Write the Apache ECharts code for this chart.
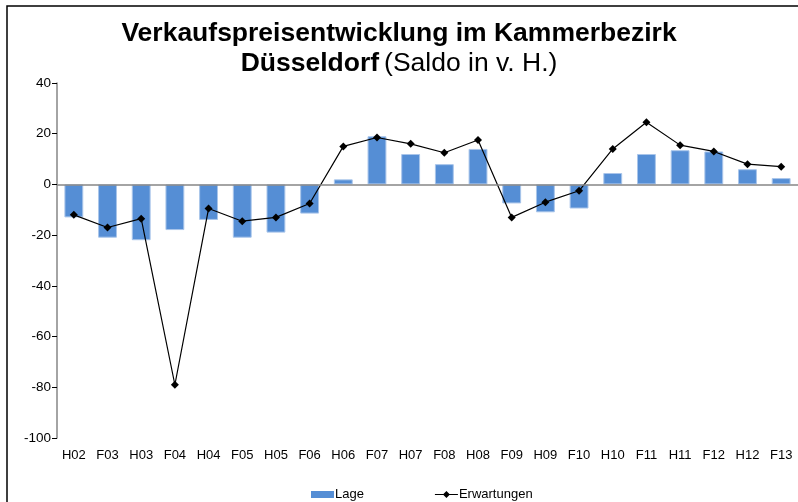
<!DOCTYPE html>
<html>
<head>
<meta charset="utf-8">
<script src="https://cdn.jsdelivr.net/npm/echarts@6/dist/echarts.min.js"></script>
<style>
html,body{margin:0;padding:0;background:#fff;}
#chart{width:798px;height:502px;}
</style>
</head>
<body>
<div id="chart"></div>
<script>
const categories = ['H02','F03','H03','F04','H04','F05','H05','F06','H06','F07','H07','F08','H08','F09','H09','F10','H10','F11','H11','F12','H12','F13'];
const lage = [-13,-21,-22,-18,-14,-21,-19,-11.5,2,19,12,8,14,-7.5,-11,-9.5,4.5,12,13.5,13,6,2.5];
const erwartungen = [-12,-17,-13.5,-79,-9.5,-14.5,-13,-7.5,15,18.5,16,12.5,17.5,-13,-7,-2.5,14,24.5,15.5,13,8,7];
const yTicks = {min:-100, max:40, interval:20};

const chart = echarts.init(document.getElementById('chart'));
const font = 'Liberation Sans, Arial, sans-serif';
chart.setOption({
  animation:false,
  backgroundColor:'#fff',
  title:{
    left:'center', top:14,
    text:'{b|Verkaufspreisentwicklung im Kammerbezirk}\n{b|Düsseldorf} {n|(Saldo in v. H.)}',
    textStyle:{
      fontFamily:font,
      rich:{
        b:{fontSize:26.5,fontWeight:'bold',color:'#000',fontFamily:font,lineHeight:30},
        n:{fontSize:26.5,fontWeight:'normal',color:'#000',fontFamily:font,lineHeight:30}
      }
    }
  },
  graphic:[{
    type:'rect', silent:true, z:100,
    shape:{x:7,y:6,width:800,height:500},
    style:{fill:'none',stroke:'#000',lineWidth:1.5}
  }],
  legend:{
    left:306, top:483, itemGap:71,
    textStyle:{fontFamily:font,fontSize:13,color:'#000',padding:[0,0,0,-4]},
    data:[
      {name:'Lage', icon:'rect', itemStyle:{borderWidth:0}},
      {name:'Erwartungen', icon:'path://M0,3H8.5L11.5,0L14.5,3H23V4H14.5L11.5,7L8.5,4H0Z', itemStyle:{color:'#000',borderWidth:0}}
    ],
    itemWidth:23, itemHeight:7
  },
  grid:{left:57, right:-5, top:83, bottom:64},
  xAxis:{
    type:'category', data:categories,
    axisLine:{show:false, onZero:false},
    axisTick:{show:false},
    axisLabel:{fontFamily:font,fontSize:13,color:'#000',margin:11,interval:0}
  },
  yAxis:{
    type:'value', min:yTicks.min, max:yTicks.max, interval:yTicks.interval,
    splitLine:{show:false},
    axisLine:{show:true,lineStyle:{color:'#868686',width:1.5}},
    axisTick:{show:true,length:5,lineStyle:{color:'#000'}},
    axisLabel:{fontFamily:font,fontSize:13.5,color:'#000',margin:6}
  },
  series:[
    {
      name:'Lage', type:'bar', data:lage, barWidth:'56%',
      itemStyle:{color:'#558ED5', borderColor:'#A9C5EA', borderWidth:1},
      markLine:{
        silent:true, symbol:'none', label:{show:false},
        lineStyle:{color:'#868686',width:1.5,type:'solid'},
        data:[{yAxis:0}]
      }
    },
    {
      name:'Erwartungen', type:'line', data:erwartungen,
      symbol:'diamond', symbolSize:8,
      itemStyle:{color:'#000'},
      lineStyle:{color:'#000',width:1.2}
    }
  ]
});
</script>
</body>
</html>
